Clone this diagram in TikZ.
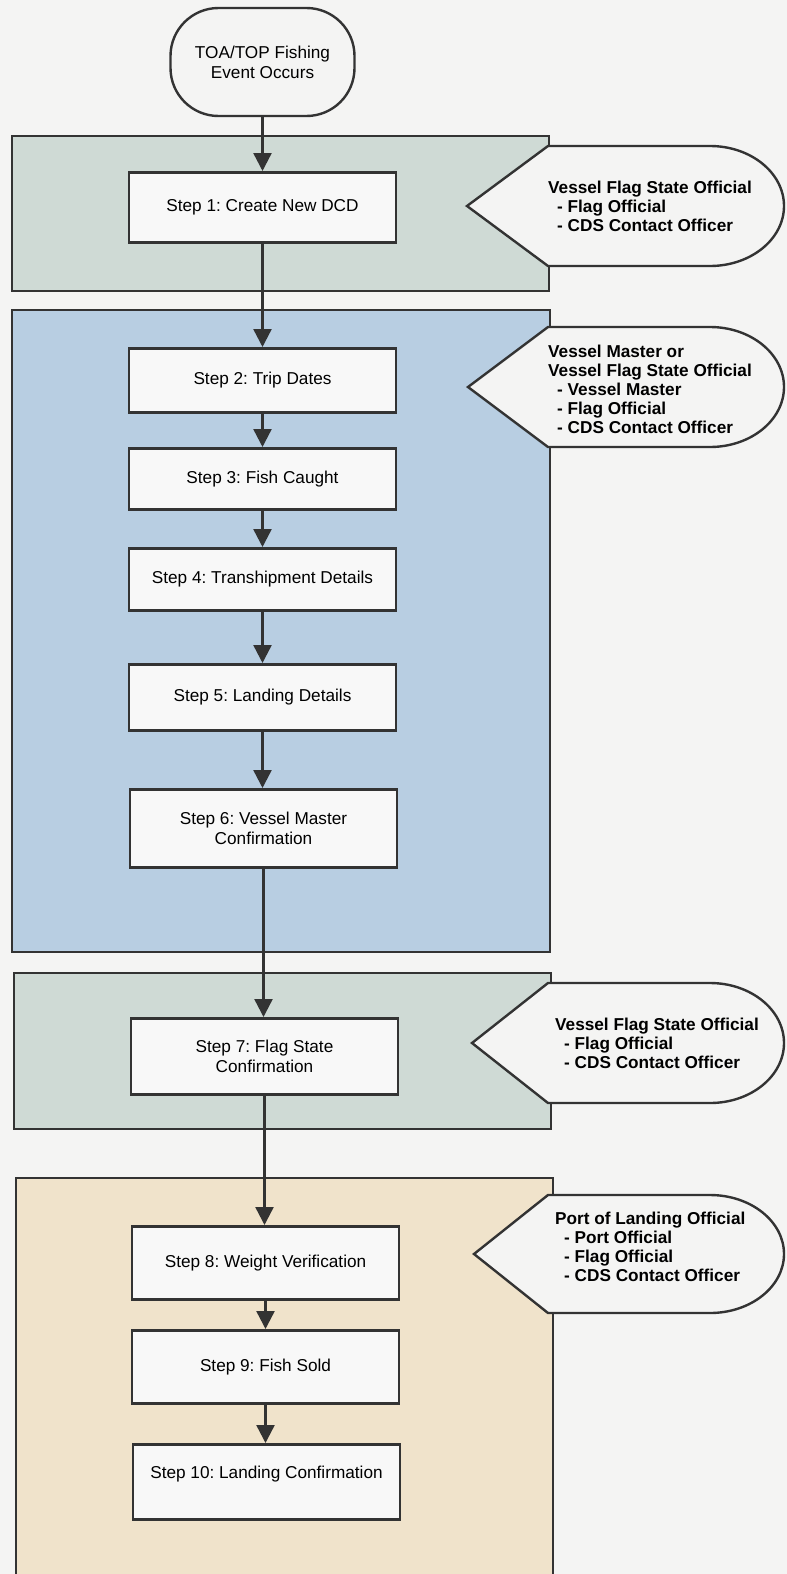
\documentclass[tikz,border=0pt]{standalone}
\usepackage{fontspec}
\setmainfont{Liberation Sans}
\frenchspacing
\usetikzlibrary{arrows.meta}
\definecolor{bgc}{HTML}{F4F4F3}
\definecolor{grn}{HTML}{CFDAD5}
\definecolor{blu}{HTML}{B8CEE2}
\definecolor{bei}{HTML}{F0E3CB}
\definecolor{ink}{HTML}{333333}
\definecolor{boxf}{HTML}{F8F8F8}
\tikzset{
  panel/.style={draw=ink, line width=1.8pt},
  stepbox/.style={draw=ink, line width=2.6pt, fill=boxf, minimum width=267pt, anchor=north, inner sep=0pt, align=center, font=\fontsize{17.2}{20}\selectfont},
  calloutshape/.style={draw=ink, line width=2.4pt, fill=bgc},
  callouttext/.style={anchor=west, align=left, inner sep=0pt, font=\fontsize{17.2}{20}\selectfont\bfseries},
  arr/.style={draw=ink, line width=2.4pt, -{Triangle[width=18pt,length=18pt]}},
}
\newcommand\mycallout[3]{% top, bottom, tip x
  \draw[calloutshape] (548,#1) -- (710,#1)
    arc[start angle=90, end angle=-90, x radius=74pt, y radius={(#2-#1)/2*1pt}]
    -- (548,#2) -- (#3,{(#1+#2)/2}) -- cycle;
}
\begin{document}
\begin{tikzpicture}[x=1pt,y=-1pt]
\useasboundingbox (0,0) rectangle (787,1574);
\clip (0,0) rectangle (787,1574);
\fill[bgc] (0,0) rectangle (787,1574);

% panels
\draw[panel, fill=grn] (12,136) rectangle (549,291);
\draw[panel, fill=blu] (12,310) rectangle (550,952);
\draw[panel, fill=grn] (14,973) rectangle (551,1129);
\draw[panel, fill=bei] (16,1178) rectangle (553,1600);

% callouts
\mycallout{146}{266}{467}
\mycallout{327}{447}{468}
\mycallout{983}{1103}{472}
\mycallout{1195}{1313}{474}

\node[callouttext] (t1) at (548,206) {Vessel Flag State Official\\[-1pt]\hspace{9pt}- Flag Official\\[-1pt]\hspace{9pt}- CDS Contact Officer};
\node[callouttext] (t2) at (548,389) {Vessel Master or\\[-1pt]Vessel Flag State Official\\[-1pt]\hspace{9pt}- Vessel Master\\[-1pt]\hspace{9pt}- Flag Official\\[-1pt]\hspace{9pt}- CDS Contact Officer};
\node[callouttext] (t3) at (555,1043) {Vessel Flag State Official\\[-1pt]\hspace{9pt}- Flag Official\\[-1pt]\hspace{9pt}- CDS Contact Officer};
\node[callouttext] (t4) at (555,1247) {Port of Landing Official\\[-1pt]\hspace{9pt}- Port Official\\[-1pt]\hspace{9pt}- Flag Official\\[-1pt]\hspace{9pt}- CDS Contact Officer};

% terminal
\node[draw=ink, line width=2.4pt, fill=bgc, rounded corners=48pt, minimum width=184pt, minimum height=108pt, align=center, inner sep=0pt, font=\fontsize{17.2}{20}\selectfont] (start) at (262.5,62) {TOA/TOP Fishing\\Event Occurs};

% steps
\node[stepbox, minimum height=70pt] (s1) at (262.5,171) {Step 1: Create New DCD};
\node[stepbox, minimum height=64pt] (s2) at (262.5,347) {Step 2: Trip Dates};
\node[stepbox, minimum height=61pt] (s3) at (262.5,447) {Step 3: Fish Caught};
\node[stepbox, minimum height=62pt] (s4) at (262.5,547) {Step 4: Transhipment Details};
\node[stepbox, minimum height=66pt] (s5) at (262.5,663) {Step 5: Landing Details};
\node[stepbox, minimum height=78pt] (s6) at (263.5,788) {Step 6: Vessel Master\\Confirmation};
\node[stepbox, minimum height=76pt] (s7) at (264.5,1017) {Step 7: Flag State\\Confirmation};
\node[stepbox, minimum height=73pt] (s8) at (265.5,1225) {Step 8: Weight Verification};
\node[stepbox, minimum height=73pt] (s9) at (265.5,1329) {Step 9: Fish Sold};
\node[stepbox, minimum height=75pt] (s10) at (266.5,1443) {Step 10: Landing Confirmation\\\mbox{}};

% connectors
\draw[arr] (start) -- (s1);
\draw[arr] (s1) -- (s2);
\draw[arr] (s2) -- (s3);
\draw[arr] (s3) -- (s4);
\draw[arr] (s4) -- (s5);
\draw[arr] (s5.south) -- (s5.south |- s6.north);
\draw[arr] (s6.south) -- (s6.south |- s7.north);
\draw[arr] (s7.south) -- (s7.south |- s8.north);
\draw[arr] (s8) -- (s9);
\draw[arr] (s9.south) -- (s9.south |- s10.north);
\end{tikzpicture}
\end{document}
